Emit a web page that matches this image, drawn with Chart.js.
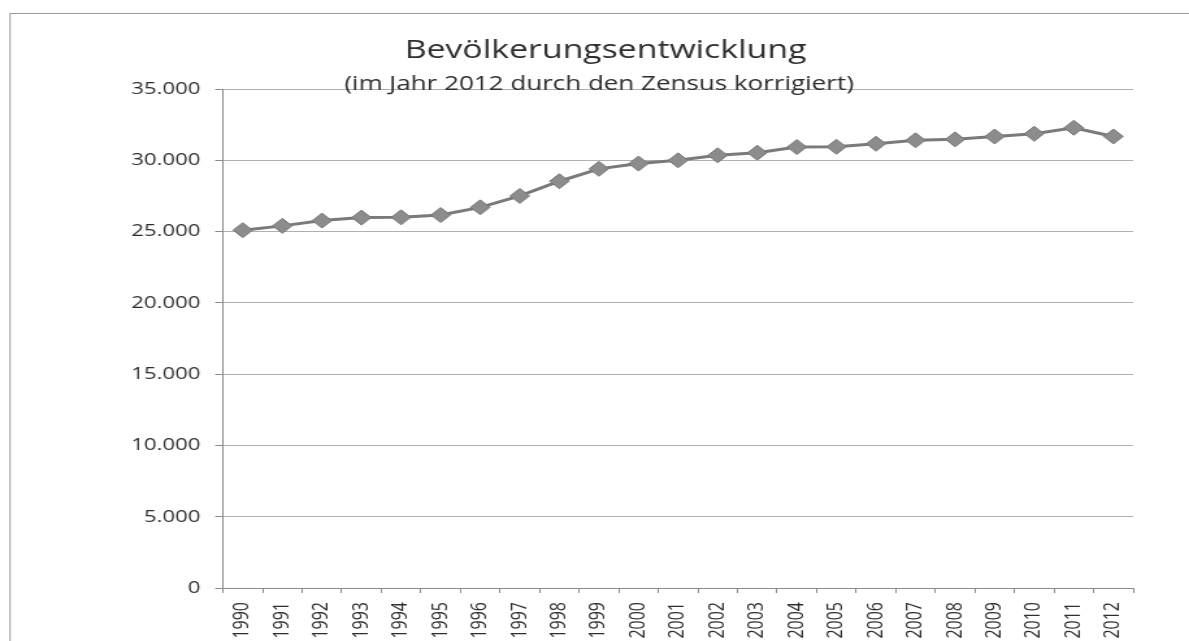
<!DOCTYPE html>
<html><head><meta charset="utf-8">
<script src="https://cdn.jsdelivr.net/npm/chart.js@4.4.1/dist/chart.umd.min.js"></script>
<style>
html,body{margin:0;padding:0;background:#fff;overflow:hidden;}
#wrap{position:absolute;left:0;top:0;width:915px;height:641px;transform:scaleX(1.2995);transform-origin:0 0;}
</style></head><body>
<div id="wrap"><canvas id="c"></canvas></div>
<script>
const years = ['1990','1991','1992','1993','1994','1995','1996','1997','1998','1999','2000','2001','2002','2003','2004','2005','2006','2007','2008','2009','2010','2011','2012'];
const population = [25100,25400,25770,25980,26000,26160,26700,27500,28530,29400,29770,30000,30350,30530,30930,30950,31160,31400,31470,31670,31860,32280,31670];
const yTickValues = [0,5000,10000,15000,20000,25000,30000,35000];
const titleText = 'Bevölkerungsentwicklung';
const subtitleText = '(im Jahr 2012 durch den Zensus korrigiert)';

const FONT = "'Open Sans', 'Liberation Sans', sans-serif";

const frameAndTitle = {
  id: 'frameAndTitle',
  beforeDraw(chart) {
    const ctx = chart.ctx;
    ctx.save();
    ctx.fillStyle = '#ffffff';
    ctx.fillRect(0, 0, chart.width, chart.height);
    ctx.strokeStyle = '#9a9a9a';
    ctx.lineWidth = 1;
    ctx.strokeRect(7.7, 13.5, 2000, 2000);
    ctx.restore();
  },
  afterDraw(chart) {
    const ctx = chart.ctx;
    ctx.save();
    ctx.fillStyle = '#2e2e2e';
    ctx.textAlign = 'center';
    ctx.textBaseline = 'alphabetic';
    ctx.font = "500 26px " + FONT;
    ctx.fillText(titleText, 466, 57.5);
    ctx.font = "500 20px " + FONT;
    ctx.fillText(subtitleText, 461, 89.5);
    ctx.restore();
  }
};

new Chart(document.getElementById('c'), {
  type: 'line',
  data: {
    labels: years,
    datasets: [{
      data: population,
      borderColor: '#7a7a7a',
      borderWidth: 3,
      backgroundColor: '#8a8a8a',
      pointStyle: 'rectRot',
      pointRadius: 7.5,
      pointBorderColor: '#777777',
      pointBackgroundColor: '#8c8c8c',
      pointBorderWidth: 1,
      tension: 0,
      fill: false
    }]
  },
  options: {
    responsive: true,
    maintainAspectRatio: false,
    animation: false,
    devicePixelRatio: 1,
    layout: { padding: { top: 89, right: 43, left: 0, bottom: 0 } },
    plugins: { legend: { display: false }, title: { display: false }, tooltip: { enabled: false } },
    scales: {
      x: {
        type: 'category',
        offset: true,
        afterFit(scale) { scale.height = 53; },
        grid: { display: true, drawOnChartArea: false, drawTicks: true, tickLength: 5, offset: true, color: '#8c8c8c' },
        border: { display: true, color: '#8c8c8c', width: 1 },
        ticks: {
          autoSkip: false, minRotation: 90, maxRotation: 90, padding: 9,
          color: '#2e2e2e', font: { family: FONT, size: 16, weight: '500' }
        }
      },
      y: {
        min: 0, max: 35000,
        afterFit(scale) { scale.width = 171.6; },
        afterBuildTicks(scale) { scale.ticks = yTickValues.map(v => ({ value: v })); },
        grid: { color: '#b0b0b0', lineWidth: 1, borderDash: [1, 2], tickLength: 6, tickBorderDash: [], tickColor: '#8c8c8c' },
        border: { display: true, color: '#8c8c8c', width: 1 },
        ticks: {
          padding: 11.5, color: '#2e2e2e', font: { family: FONT, size: 17, weight: '500' },
          callback: (v) => Number(v).toLocaleString('de-DE')
        }
      }
    }
  },
  plugins: [frameAndTitle]
});
</script>
</body></html>
